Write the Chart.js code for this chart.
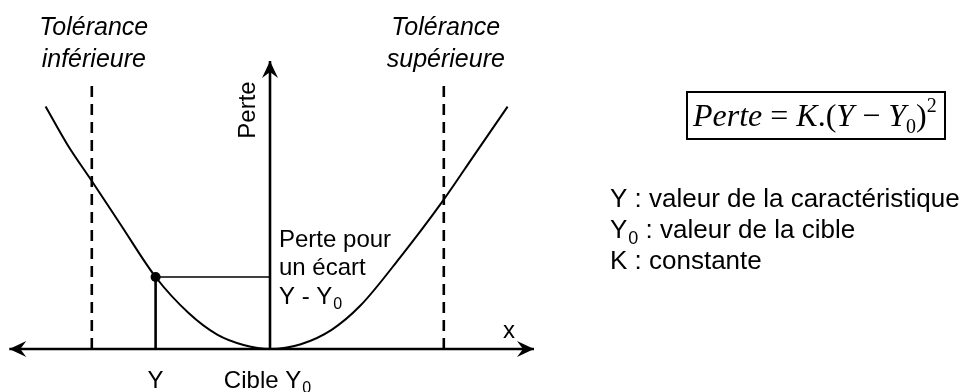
<!DOCTYPE html>
<html>
<head>
<meta charset="utf-8">
<script src="https://cdn.jsdelivr.net/npm/chart.js@4.4.1/dist/chart.umd.min.js"></script>
<style>
  html, body { margin: 0; padding: 0; background: #ffffff; }
  #wrap { width: 967px; height: 392px; position: relative; }
</style>
</head>
<body>
<div id="wrap"><canvas id="c" width="967" height="392"></canvas></div>
<script>
// ---- Data (x: deviation from target, y: loss) ----
const curveX = [-10.2, -9.2, -8.1, -6.8, -5.2, -3.7, -2.4, -1.2, 0, 1.4, 2.8, 4.1, 5.9, 7.8, 9.3, 10.8];
const curveY = [10.1, 8.5, 7.0, 5.2, 3.0, 1.5, 0.6, 0.17, 0, 0.2, 0.8, 1.8, 3.8, 6.1, 8.1, 10.1];
const tolerances = [-8.1, 7.9];
const toleranceTop = 11.1;
const toleranceLabels = [["Tolérance", "inférieure"], ["Tolérance", "supérieure"]];
const target = 0;
const sampleValue = -5.2;
const sampleLoss = 3.0;
const xAxisExtent = [-11.85, 12.0];
const yAxisTop = 12.0;
const lossLabelLines = ["Perte pour", "un écart", "Y - Y"];
const legendLines = [
  { sym: "Y", sub: "", text: " : valeur de la caractéristique" },
  { sym: "Y", sub: "0", text: " : valeur de la cible" },
  { sym: "K", sub: "", text: " : constante" }
];

const SANS = '"Liberation Sans", Arial, Helvetica, sans-serif';
const SERIF = '"Liberation Serif", "Times New Roman", serif';

function seg(x0, y0, x1, y1) { return [{ x: x0, y: y0 }, { x: x1, y: y1 }]; }

const datasets = [
  { // loss curve
    data: curveX.map((x, i) => ({ x: x, y: curveY[i] })),
    showLine: true, borderColor: '#000', borderWidth: 2,
    pointRadius: 0, cubicInterpolationMode: 'monotone', fill: false
  },
  ...tolerances.map(t => ({
    data: seg(t, 0, t, toleranceTop),
    showLine: true, borderColor: '#000', borderWidth: 2.6,
    borderDash: [11, 7], pointRadius: 0
  })),
  { // x axis
    data: seg(xAxisExtent[0], 0, xAxisExtent[1], 0),
    showLine: true, borderColor: '#000', borderWidth: 2.6, pointRadius: 0
  },
  { // vertical (loss) axis
    data: seg(target, 0, target, yAxisTop),
    showLine: true, borderColor: '#000', borderWidth: 2.6, pointRadius: 0
  },
  { // vertical from Y
    data: seg(sampleValue, 0, sampleValue, sampleLoss),
    showLine: true, borderColor: '#000', borderWidth: 2.6, pointRadius: 0
  },
  { // horizontal to loss axis
    data: seg(sampleValue, sampleLoss, target, sampleLoss),
    showLine: true, borderColor: '#000', borderWidth: 1.7, pointRadius: 0
  },
  { // the point
    data: [{ x: sampleValue, y: sampleLoss }],
    showLine: false, pointRadius: 5, backgroundColor: '#000', borderColor: '#000', borderWidth: 0
  }
];
datasets.forEach(d => { d.clip = false; });

function arrowHead(ctx, tx, ty, ang) {
  const L = 17, W = 8, N = 11;
  ctx.save();
  ctx.translate(tx, ty);
  ctx.rotate(ang);
  ctx.beginPath();
  ctx.moveTo(0, 0);
  ctx.lineTo(-L, -W);
  ctx.lineTo(-N, 0);
  ctx.lineTo(-L, W);
  ctx.closePath();
  ctx.fillStyle = '#000';
  ctx.fill();
  ctx.restore();
}

function textWithSub(ctx, x, y, main, sub, size, align) {
  ctx.font = size + 'px ' + SANS;
  const w1 = ctx.measureText(main).width;
  const subSize = Math.round(size * 0.68);
  ctx.font = subSize + 'px ' + SANS;
  const w2 = sub ? ctx.measureText(sub).width : 0;
  let sx = x;
  if (align === 'center') sx = x - (w1 + w2) / 2;
  ctx.textAlign = 'left';
  ctx.font = size + 'px ' + SANS;
  ctx.fillText(main, sx, y);
  if (sub) {
    ctx.font = subSize + 'px ' + SANS;
    ctx.fillText(sub, sx + w1 + 1, y + size * 0.22);
  }
  return sx + w1 + w2 + 1;
}

const decor = {
  id: 'decor',
  afterDatasetsDraw(chart) {
    const ctx = chart.ctx;
    const xs = chart.scales.x, ys = chart.scales.y;
    const X = v => xs.getPixelForValue(v), Y = v => ys.getPixelForValue(v);
    ctx.save();
    // arrowheads
    arrowHead(ctx, X(xAxisExtent[0]), Y(0), Math.PI);
    arrowHead(ctx, X(xAxisExtent[1]), Y(0), 0);
    arrowHead(ctx, X(target), Y(yAxisTop), -Math.PI / 2);

    ctx.fillStyle = '#000';
    ctx.textBaseline = 'alphabetic';
    // tolerance labels
    ctx.font = 'italic 25px ' + SANS;
    ctx.textAlign = 'center';
    tolerances.forEach((t, i) => {
      ctx.fillText(toleranceLabels[i][0], X(t) + 2, 35);
      ctx.fillText(toleranceLabels[i][1], X(t) + 2, 67);
    });
    // axis label "Perte" (rotated)
    ctx.save();
    ctx.font = '24px ' + SANS;
    ctx.translate(X(target) - 15, 110);
    ctx.rotate(-Math.PI / 2);
    ctx.textAlign = 'center';
    ctx.fillText('Perte', 0, 0);
    ctx.restore();
    // x label
    ctx.font = '24px ' + SANS;
    ctx.textAlign = 'center';
    ctx.fillText('x', 509, 338);
    // loss annotation
    const ax = X(target) + 9;
    ctx.textAlign = 'left';
    ctx.fillText(lossLabelLines[0], ax, 247);
    ctx.fillText(lossLabelLines[1], ax, 275);
    textWithSub(ctx, ax, 304, lossLabelLines[2], '0', 24, 'left');
    // bottom labels
    ctx.textAlign = 'center';
    textWithSub(ctx, X(sampleValue), 388, 'Y', '', 24, 'center');
    textWithSub(ctx, X(target) - 3, 388, 'Cible Y', '0', 24, 'center');

    // formula box
    ctx.lineWidth = 2;
    ctx.strokeStyle = '#000';
    ctx.strokeRect(687, 92, 258, 47);
    const parts = [
      { t: 'Perte', f: 'italic 32px ' + SERIF },
      { t: ' = ', f: '32px ' + SERIF },
      { t: 'K', f: 'italic 32px ' + SERIF },
      { t: '.(', f: '32px ' + SERIF },
      { t: 'Y', f: 'italic 32px ' + SERIF },
      { t: ' \u2212 ', f: '32px ' + SERIF },
      { t: 'Y', f: 'italic 32px ' + SERIF },
      { t: '0', f: '20px ' + SERIF, dy: 7 },
      { t: ')', f: '32px ' + SERIF },
      { t: '2', f: '20px ' + SERIF, dy: -14 }
    ];
    let fx = 693;
    ctx.textAlign = 'left';
    parts.forEach(p => {
      ctx.font = p.f;
      ctx.fillText(p.t, fx, 126 + (p.dy || 0));
      fx += ctx.measureText(p.t).width;
    });

    // legend lines
    const lb = [207, 238, 269];
    legendLines.forEach((l, i) => {
      const end = textWithSub(ctx, 610, lb[i], l.sym, l.sub, 26, 'left');
      ctx.font = '26px ' + SANS;
      ctx.textAlign = 'left';
      ctx.fillText(l.text, l.sub ? end : 610 + ctx.measureText(l.sym).width, lb[i]);
    });
    ctx.restore();
  }
};

new Chart(document.getElementById('c'), {
  type: 'scatter',
  data: { datasets: datasets },
  options: {
    responsive: false,
    animation: false,
    events: [],
    layout: { padding: { left: 6, right: 433, top: 13, bottom: 7 } },
    plugins: { legend: { display: false }, tooltip: { enabled: false }, title: { display: false } },
    scales: {
      x: { type: 'linear', min: -12, max: 12, display: false },
      y: { type: 'linear', min: -1.5, max: 14, display: false }
    }
  },
  plugins: [decor]
});
</script>
</body>
</html>
